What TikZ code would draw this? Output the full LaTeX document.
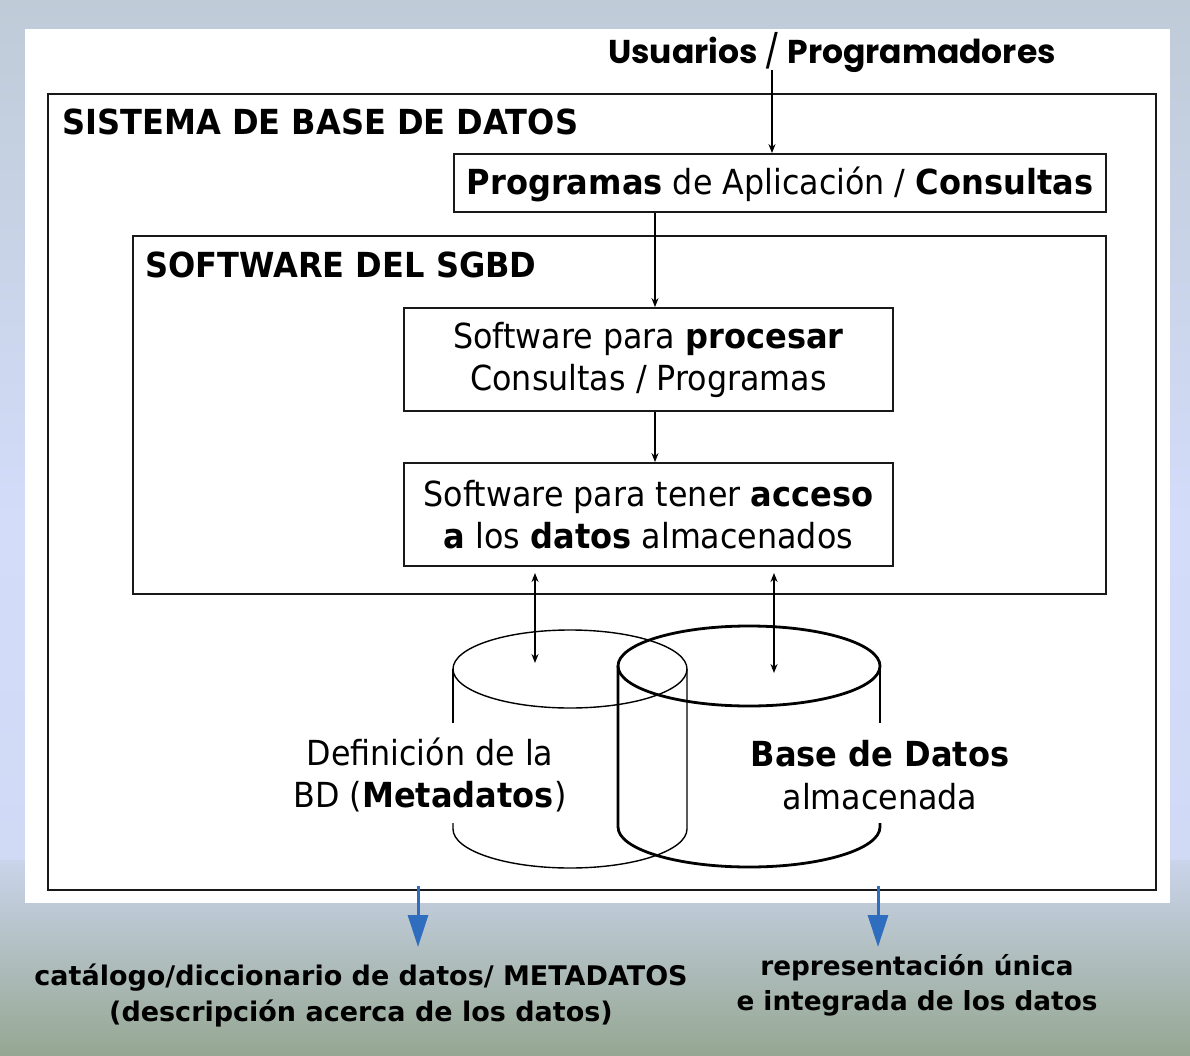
\documentclass[tikz,border=0pt]{standalone}
\usepackage{fontspec}
\setmainfont{DejaVu Sans}[FakeStretch=0.92, BoldFeatures={FakeStretch=0.93}]
\newfontfamily\gothic{Poppins}
\newfontfamily\notefont{DejaVu Sans}
\usetikzlibrary{arrows.meta}
\definecolor{bgtop}{HTML}{BFCBD7}
\definecolor{bgmid}{HTML}{D3DCF9}
\definecolor{bgmid2}{HTML}{D0DAF5}
\definecolor{bglow}{HTML}{CAD4EA}
\definecolor{bgbot}{HTML}{95A792}
\definecolor{bluearr}{HTML}{2F6EBF}
\tikzset{
  boxline/.style={draw=black!90, line width=1.8pt},
  box/.style={boxline, inner sep=0pt, fill=white},
  arr/.style={line width=1.5pt, -{Stealth[length=9pt,width=7pt]}},
  darr/.style={line width=1.5pt, {Stealth[length=9pt,width=7pt]}-{Stealth[length=9pt,width=7pt]}},
  barr/.style={draw=bluearr, line width=3pt, -{Triangle[length=32pt,width=20pt]}},
  txt/.style={inner sep=0pt, align=center, font=\fontsize{34.5}{42.5}\selectfont},
  title/.style={inner sep=0pt, anchor=west, font=\fontsize{34.5}{40}\selectfont\bfseries},
  note/.style={inner sep=0pt, align=center, font=\notefont\fontsize{27}{36}\selectfont\bfseries},
  thincyl/.style={line width=1.4pt},
  thickcyl/.style={line width=2.8pt},
}
\begin{document}
\begin{tikzpicture}[x=1pt,y=-1pt]
\useasboundingbox (0,0) rectangle (1190,1056);
% background
\shade[top color=bgtop, bottom color=bgmid] (0,0) rectangle (1190,521);
\shade[top color=bgmid, bottom color=bgmid2] (0,520) rectangle (1190,861);
\shade[top color=bglow, bottom color=bgbot] (0,860) rectangle (1190,1056);
\fill[white] (25,29) rectangle (1170,903);

% outer box
\node[box, minimum width=1108pt, minimum height=796pt] (sys) at (602,492) {};
\node[title] (systitle) at (62,122) {SISTEMA DE BASE DE DATOS};

\node[font=\gothic\bfseries\fontsize{33}{38}\selectfont, inner sep=0pt] (usr) at (832,52) {Usuarios {\mdseries/} Programadores};

\node[box, minimum width=652pt, minimum height=58pt] (prog) at (780,183) {};
\node[txt] (progtxt) at (780,184) {\textbf{Programas} de Aplicación / \textbf{Consultas}};

\node[box, minimum width=973pt, minimum height=358pt] (sgbd) at (619.5,415) {};
\node[title] (sgbdtitle) at (145,265) {SOFTWARE DEL SGBD};

\node[box, minimum width=489pt, minimum height=103pt] (proc) at (648.5,359.5) {};
\node[txt] (proctxt) at (648.5,360) {Software para \textbf{procesar}\\Consultas / Programas};

\node[box, minimum width=489pt, minimum height=103pt] (acc) at (648.5,514.5) {};
\node[txt] (acctxt) at (648.5,514.5) {Software para tener \textbf{acceso}\\\textbf{a} los \textbf{datos} almacenados};

% connectors
\coordinate (u) at (772,70);
\draw[arr] (u) -- (u |- prog.north);
\draw[arr] ([xshift=6.5pt]proc.north |- prog.south) -- ([xshift=6.5pt]proc.north);
\draw[arr] ([xshift=6.5pt]proc.south) -- ([xshift=6.5pt]acc.north);

% cylinders
\coordinate (meta) at (535,663);
\coordinate (bd) at (774,673);
\draw[darr] (meta |- 0,573) -- (meta);
\draw[darr] (bd |- 0,573) -- (bd);

% left (thin) cylinder
\draw[thincyl] (570,669) ellipse [x radius=117pt, y radius=39pt];
\draw[thincyl] (453,669) -- (453,723);
\draw[thincyl] (453,823) -- (453,829) arc[start angle=180, end angle=360, x radius=117pt, y radius=39pt] -- (687,669);
% right (thick) cylinder
\draw[thickcyl] (749,666) ellipse [x radius=131pt, y radius=40pt];
\draw[thickcyl] (880,666) -- (880,723);
\draw[thickcyl] (618,666) -- (618,827) arc[start angle=180, end angle=360, x radius=131pt, y radius=40pt] -- (880,823);

\node[txt] (deftxt) at (430,775) {Definición de la\\BD (\textbf{Metadatos})};
\node[txt] (bdtxt) at (880,775) {\textbf{Base de Datos}\\almacenada};

% blue arrows and notes
\node[note] (n1) at (361,995) {catálogo/diccionario de datos/ METADATOS\\(descripción acerca de los datos)};
\node[note, font=\notefont\fontsize{26.3}{35}\selectfont\bfseries] (n2) at (917,985) {representación única\\e integrada de los datos};
\coordinate (b1) at (418,886);
\coordinate (b2) at (878,886);
\draw[barr] (b1) -- (b1 |- 0,947);
\draw[barr] (b2) -- (b2 |- 0,947);
\end{tikzpicture}
\end{document}
